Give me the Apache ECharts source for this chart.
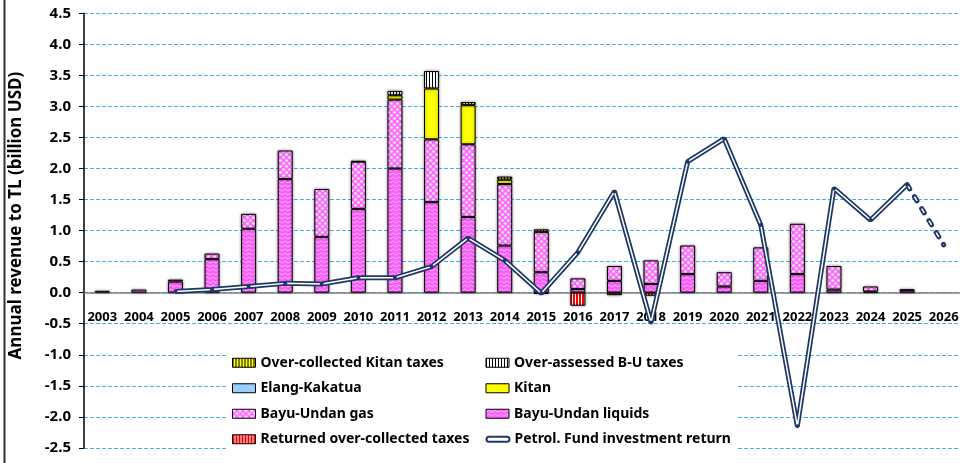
<!DOCTYPE html>
<html>
<head>
<meta charset="utf-8">
<script src="https://cdn.jsdelivr.net/npm/echarts@6/dist/echarts.min.js"></script>
<style>
html,body{margin:0;padding:0;background:#fff}
#chart{width:960px;height:463px}
</style>
</head>
<body>
<div id="chart"></div>
<script>
const years = ['2003','2004','2005','2006','2007','2008','2009','2010','2011','2012','2013','2014',
  '2015','2016','2017','2018','2019','2020','2021','2022','2023','2024','2025','2026']

// billion USD
const buLiquids     = [0, 0.05, 0.18, 0.54, 1.03, 1.83, 0.90, 1.35, 2.00, 1.46, 1.22, 0.76, 0.33, 0.06, 0.19, 0.14, 0.30, 0.10, 0.19, 0.30, 0.05, 0.02, 0.04, 0]
const buGas         = [0, 0, 0.03, 0.09, 0.24, 0.46, 0.77, 0.76, 1.11, 1.01, 1.17, 0.99, 0.65, 0.17, 0.24, 0.38, 0.46, 0.23, 0.54, 0.81, 0.38, 0.08, 0.01, 0]
const elangKakatua  = [0.03, 0, 0, 0, 0, 0, 0, 0, 0, 0, 0, 0, 0, 0, 0, 0, 0, 0, 0, 0, 0, 0, 0, 0]
const kitan         = [0, 0, 0, 0, 0, 0, 0, 0, 0.07, 0.82, 0.63, 0.07, 0, 0, 0, 0, 0, 0, 0, 0, 0, 0, 0, 0]
const overAssessBU  = [0, 0, 0, 0, 0, 0, 0, 0.01, 0.07, 0.28, 0, 0, 0, 0, 0, 0, 0, 0, 0, 0, 0, 0, 0, 0]
const overKitanTax  = [0, 0, 0, 0, 0, 0, 0, 0, 0, 0, 0.05, 0.05, 0.04, 0, 0, 0, 0, 0, 0, 0, 0, 0, 0, 0]
const returnedTaxes = [0, 0, 0, 0, 0, 0, 0, 0, 0, 0, 0, 0, -0.02, -0.21, -0.04, -0.05, 0, 0, 0, 0, 0, 0, 0, 0]
const fundReturn    = [null, null, 0.02, 0.05, 0.10, 0.15, 0.14, 0.24, 0.24, 0.42, 0.88, 0.52, -0.01, 0.65, 1.63, -0.48, 2.11, 2.48, 1.09, -2.15, 1.68, 1.17, 1.74, null]
const fundForecast  = [null, null, null, null, null, null, null, null, null, null, null, null, null, null, null, null, null, null, null, null, null, null, 1.74, 0.77]

const FONT = 'Noto Sans'
const NAVY = '#1f3864'
const Y_MIN = -2.5, Y_MAX = 4.5
const GRID_H = 434.6

function pattern(w, h, draw) {
  const c = document.createElement('canvas')
  c.width = w
  c.height = h
  const g = c.getContext('2d')
  draw(g)
  return { image: c, repeat: 'repeat' }
}

const liquidsFill = pattern(6, 4, g => {
  g.fillStyle = '#ff5cff'; g.fillRect(0, 0, 6, 4)
  g.strokeStyle = '#ffb8ff'; g.lineWidth = 1
  g.beginPath(); g.moveTo(0, 3); g.lineTo(3, 1); g.lineTo(6, 3); g.stroke()
})
const gasFill = pattern(6, 6, g => {
  g.fillStyle = '#ff6cff'; g.fillRect(0, 0, 6, 6)
  g.fillStyle = '#ffffff'
  g.beginPath(); g.arc(1.5, 1.5, 1.3, 0, Math.PI * 2); g.fill()
  g.beginPath(); g.arc(4.5, 4.5, 1.3, 0, Math.PI * 2); g.fill()
})
const stripes = (bg, fg) => pattern(3, 2, g => {
  g.fillStyle = bg; g.fillRect(0, 0, 3, 2)
  g.fillStyle = fg; g.fillRect(0, 0, 1, 2)
})
const returnedFill = pattern(3, 2, g => {
  g.fillStyle = '#ffffff'; g.fillRect(0, 0, 3, 2)
  g.fillStyle = '#ff0000'; g.fillRect(0, 0, 2, 2)
})

function bar(name, data, color) {
  return {
    name: name,
    type: 'bar',
    stack: 'rev',
    barWidth: 15,
    data: data.map(v => v === 0 ? null : v),
    itemStyle: {
      color: color,
      borderColor: '#000',
      borderWidth: 1,
      shadowColor: 'rgba(0,0,0,0.45)',
      shadowBlur: 3
    }
  }
}

const chart = echarts.init(document.getElementById('chart'))

chart.setOption({
  animation: false,
  grid: { left: 84, top: 13.3, width: 878, height: GRID_H, containLabel: false, outerBoundsMode: 'none' },
  graphic: [{
    type: 'line',
    shape: { x1: 4.5, y1: 0, x2: 4.5, y2: 463 },
    style: { stroke: '#333', lineWidth: 2 }
  }],
  legend: {
    left: 226,
    top: 346,
    width: 500,
    padding: [9, 6, 9, 6],
    backgroundColor: '#fff',
    itemWidth: 23,
    itemHeight: 9,
    itemGap: 10,
    icon: 'rect',
    itemStyle: { borderColor: '#000', borderWidth: 1 },
    formatter: name => '{a|' + name + '}',
    textStyle: {
      rich: { a: { width: 215, height: 15.5, lineHeight: 15.5, fontSize: 14, fontWeight: 'bold', fontFamily: FONT, color: '#000' } }
    },
    data: [
      'Over-collected Kitan taxes', 'Over-assessed B-U taxes',
      'Elang-Kakatua', 'Kitan',
      'Bayu-Undan gas', 'Bayu-Undan liquids',
      'Returned over-collected taxes',
      {
        name: 'Petrol. Fund investment return',
        icon: 'path://M2.5,0 H20.5 A2.5,2.5 0 0 1 20.5,5 H2.5 A2.5,2.5 0 0 1 2.5,0 Z',
        itemStyle: { color: '#fff', borderColor: NAVY, borderWidth: 2 }
      }
    ]
  },
  xAxis: {
    type: 'category',
    data: years,
    position: 'bottom',
    // move the whole axis (line, ticks, labels) up to the zero line
    offset: -GRID_H * (0 - Y_MIN) / (Y_MAX - Y_MIN),
    axisLine: { onZero: false, lineStyle: { color: '#808080', width: 1.5 } },
    axisTick: { length: 4, lineStyle: { color: '#808080' } },
    axisLabel: { interval: 0, margin: 18, color: '#000', fontFamily: FONT, fontWeight: 'bold', fontSize: 13 },
    splitLine: { show: false }
  },
  yAxis: {
    type: 'value',
    min: Y_MIN,
    max: Y_MAX,
    interval: 0.5,
    name: 'Annual revenue to TL (billion USD)',
    nameLocation: 'middle',
    nameGap: 59,
    nameTextStyle: { color: '#000', fontFamily: FONT, fontWeight: 'bold', fontSize: 17, padding: [0, 0, 0, 30] },
    axisLine: { show: true, lineStyle: { color: '#000', width: 1.5 } },
    axisTick: { show: true, length: 5, lineStyle: { color: '#000' } },
    axisLabel: { margin: 13, color: '#000', fontFamily: FONT, fontWeight: 'bold', fontSize: 15, formatter: v => v.toFixed(1) },
    splitLine: { lineStyle: { color: '#3ab4e6', width: 1, type: [4, 2] } }
  },
  series: [
    bar('Bayu-Undan liquids', buLiquids, liquidsFill),
    bar('Bayu-Undan gas', buGas, gasFill),
    bar('Elang-Kakatua', elangKakatua, '#99ccff'),
    bar('Kitan', kitan, '#ffff00'),
    bar('Over-assessed B-U taxes', overAssessBU, stripes('#ffffff', '#000000')),
    bar('Over-collected Kitan taxes', overKitanTax, stripes('#ffff00', '#000000')),
    bar('Returned over-collected taxes', returnedTaxes, returnedFill),
    {
      name: 'Petrol. Fund investment return',
      type: 'line',
      data: fundReturn,
      symbol: 'none',
      lineStyle: { color: NAVY, width: 5 },
      z: 5
    },
    {
      name: 'Petrol. Fund investment return',
      type: 'line',
      data: fundReturn,
      symbol: 'circle',
      symbolSize: 4,
      itemStyle: { color: NAVY },
      lineStyle: { color: '#fff', width: 1.5 },
      z: 6
    },
    {
      name: 'forecast outer',
      type: 'line',
      data: fundForecast,
      symbol: 'none',
      lineStyle: { color: NAVY, width: 5, type: [5, 9], cap: 'round' },
      z: 5
    },
    {
      name: 'forecast inner',
      type: 'line',
      data: fundForecast,
      symbol: 'none',
      lineStyle: { color: '#fff', width: 1.5, type: [5, 9] },
      z: 6
    }
  ]
})
</script>
</body>
</html>
